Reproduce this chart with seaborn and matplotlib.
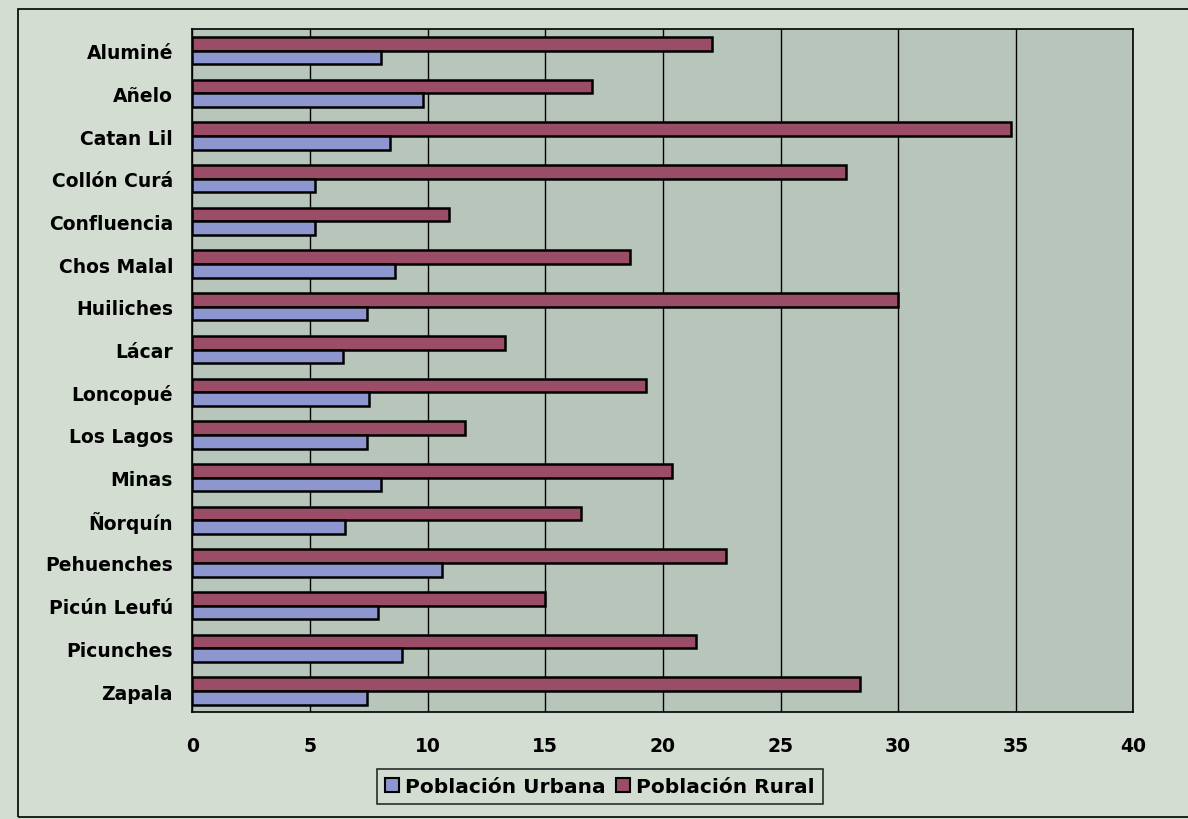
import numpy as np
import pandas as pd
import matplotlib
matplotlib.use('Agg')
import matplotlib.pyplot as plt
import seaborn as sns
from matplotlib.patches import Patch, Rectangle

departamentos = ['Aluminé', 'Añelo', 'Catan Lil', 'Collón Curá', 'Confluencia',
                 'Chos Malal', 'Huiliches', 'Lácar', 'Loncopué', 'Los Lagos',
                 'Minas', 'Ñorquín', 'Pehuenches', 'Picún Leufú', 'Picunches', 'Zapala']
urbana = [8.0, 9.8, 8.4, 5.2, 5.2, 8.6, 7.4, 6.4, 7.5, 7.4, 8.0, 6.5, 10.6, 7.9, 8.9, 7.4]
rural = [22.1, 17.0, 34.8, 27.8, 10.9, 18.6, 30.0, 13.3, 19.3, 11.6, 20.4, 16.5, 22.7, 15.0, 21.4, 28.4]

df = pd.DataFrame({'dep': departamentos * 2,
                   'valor': rural + urbana,
                   'serie': ['Población Rural'] * 16 + ['Población Urbana'] * 16})

c_urb = '#8e96cf'
c_rur = '#9b4c66'
bg_fig = '#d3ddd2'
bg_ax = '#b8c5bb'

sns.set_style('white')
plt.rcParams['font.family'] = ['DejaVu Sans']
plt.rcParams['text.color'] = 'black'
plt.rcParams['xtick.color'] = 'black'
plt.rcParams['ytick.color'] = 'black'

fig = plt.figure(figsize=(11.88, 8.2), dpi=100, facecolor=bg_fig)
ax = fig.add_axes([0.162, 0.130, 0.792, 0.833])
ax.set_facecolor(bg_ax)

sns.barplot(data=df, x='valor', y='dep', hue='serie', orient='h',
            hue_order=['Población Rural', 'Población Urbana'],
            palette={'Población Rural': c_rur, 'Población Urbana': c_urb},
            width=0.64, edgecolor='black', linewidth=1.8, saturation=1,
            legend=False, ax=ax)

ax.set_xlim(0, 40)
ax.set_xticks(range(0, 41, 5))
ax.set_xticklabels([str(v) for v in range(0, 41, 5)], fontsize=13.5, fontweight='bold')
ax.set_yticklabels(departamentos, fontsize=13.5, fontweight='bold')
ax.set_xlabel('')
ax.set_ylabel('')
ax.grid(axis='x', color='black', linewidth=1.0)
ax.set_axisbelow(True)
for s in ax.spines.values():
    s.set_color('black')
    s.set_linewidth(1.2)

ax.tick_params(axis='x', length=5, width=1, color='black', pad=12)
ax.tick_params(axis='y', which='major', length=0, pad=14)
ax.set_yticks(np.arange(-0.5, 16, 1), minor=True)
ax.tick_params(axis='y', which='minor', length=5, width=1, color='black')

handles = [Patch(facecolor=c_urb, edgecolor='black', linewidth=1.5),
           Patch(facecolor=c_rur, edgecolor='black', linewidth=1.5)]
leg = fig.legend(handles, ['Población Urbana', 'Población Rural'], ncol=2,
                 loc='center', bbox_to_anchor=(0.505, 0.040), frameon=True,
                 fancybox=False, edgecolor='black', facecolor=bg_fig,
                 prop={'weight': 'bold', 'size': 14.5},
                 handlelength=0.7, handleheight=0.7, handletextpad=0.3,
                 columnspacing=0.5, borderpad=0.4)
leg.get_frame().set_linewidth(1.2)

fig.patches.append(Rectangle((0.015, 0.003), 1.0, 0.985, transform=fig.transFigure,
                             fill=False, edgecolor='black', linewidth=1.2))

fig.savefig('out.png', dpi=100, facecolor=bg_fig)
